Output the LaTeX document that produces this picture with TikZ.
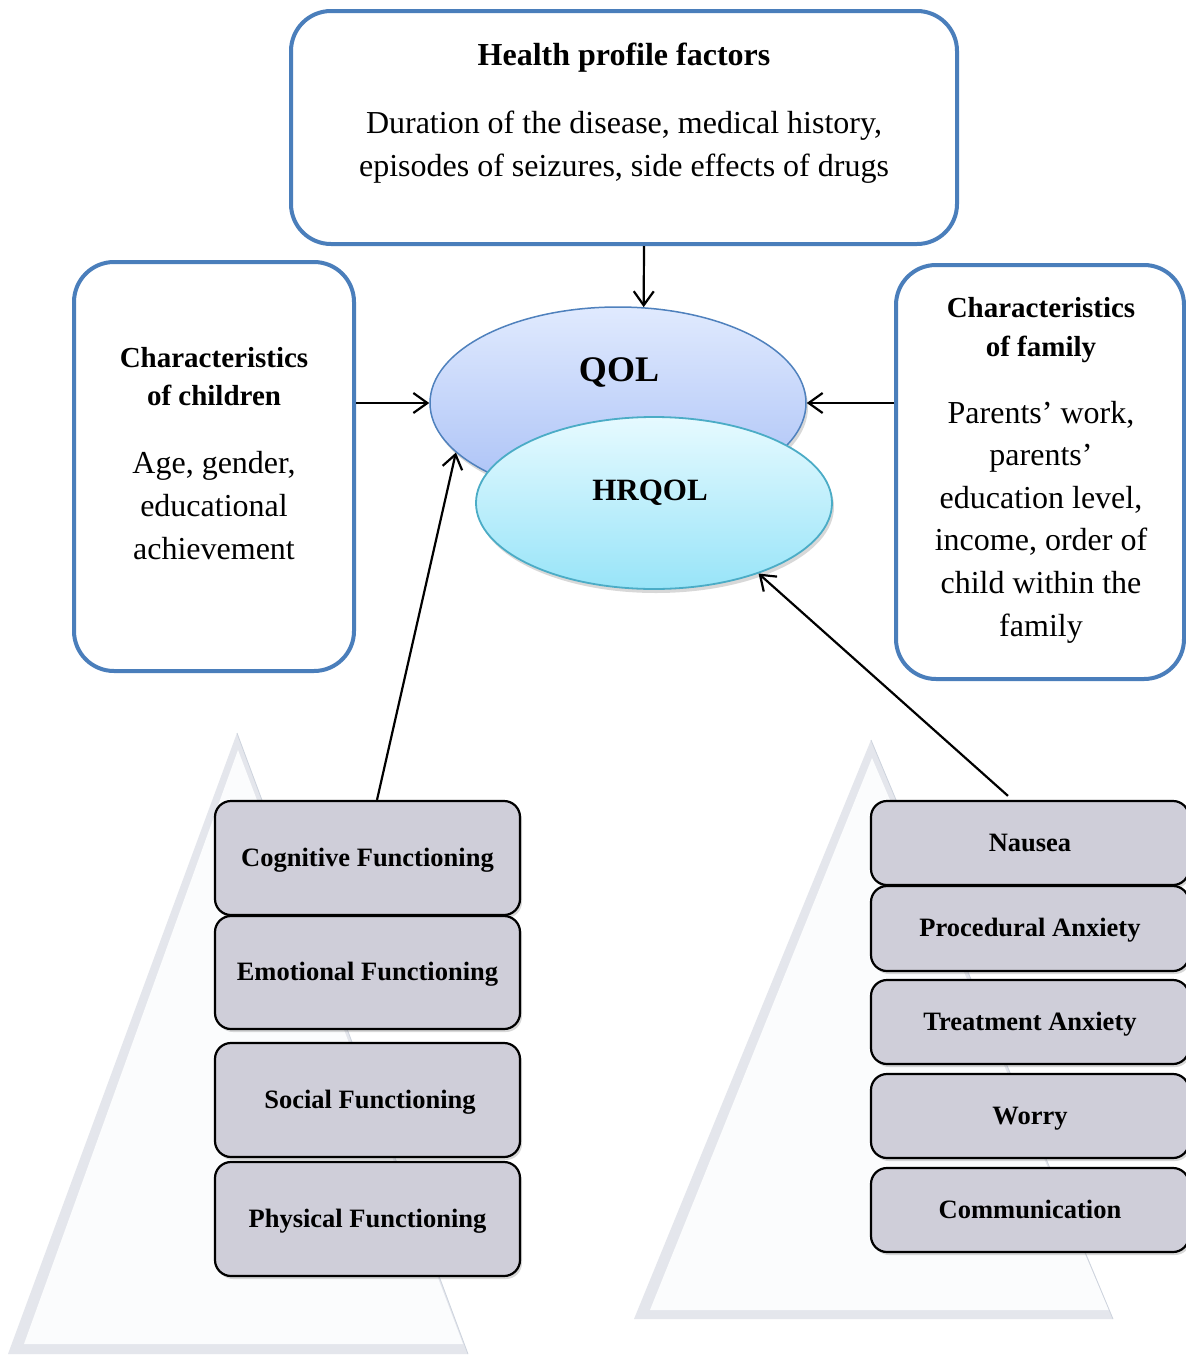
\documentclass[tikz,border=0pt]{standalone}
\usepackage{fontspec}
\setmainfont{Liberation Serif}
\usetikzlibrary{shapes.geometric,arrows.meta,shadows,calc}
\definecolor{bblue}{HTML}{4A7EBB}
\definecolor{boxgray}{HTML}{CFCED9}
\definecolor{triedge}{HTML}{E4E6EC}
\definecolor{triin}{HTML}{FBFCFD}
\definecolor{triline}{HTML}{CDD3DD}
\definecolor{qoltop}{HTML}{E0EAFE}
\definecolor{qolbot}{HTML}{A9C0F6}
\definecolor{qolline}{HTML}{4F81BD}
\definecolor{hrtop}{HTML}{E6FAFF}
\definecolor{hrbot}{HTML}{98E4F8}
\definecolor{hrline}{HTML}{4BACC6}
\begin{document}
\begin{tikzpicture}[x=1pt,y=-1pt,
  bluebox/.style={draw=bblue,line width=4pt,rounded corners=40pt,fill=white,inner sep=0pt},
  graybox/.style={draw=black,line width=2.2pt,fill=boxgray,rounded corners=16pt,inner sep=0pt,
     font=\fontsize{26.5}{30}\selectfont\bfseries,text height=18pt,text depth=2pt,
     drop shadow={shadow xshift=2pt,shadow yshift=-3pt,opacity=0.3}},
  lbox/.style={graybox,minimum width=305pt,minimum height=114pt},
  rbox/.style={graybox,minimum width=318pt,minimum height=84pt},
  arr/.style={-{Straight Barb[length=14pt,width=20pt]},line width=2.2pt},
  bodytxt/.style={align=center,inner sep=0pt},
]
\useasboundingbox (0,0) rectangle (1186,1355);
\fill[white] (0,0) rectangle (1186,1355);

% pyramids
\fill[triedge] (237,733) -- (8,1354) -- (468,1354) -- cycle;
\fill[triin] (238,750) -- (24,1344) -- (463,1344) -- cycle;
\draw[triline,line width=0.8pt] (237,733) -- (468,1354);
\fill[triedge] (871,740) -- (634,1319) -- (1113,1319) -- cycle;
\fill[triin] (872,758) -- (650,1310) -- (1109,1310) -- cycle;
\draw[triline,line width=0.8pt] (871,740) -- (1113,1319);

% blue boxes
\node[bluebox,minimum width=666pt,minimum height=233pt] (hp) at (624,127.5) {};
\node[bluebox,minimum width=280pt,minimum height=409pt] (lc) at (214,466.5) {};
\node[bluebox,minimum width=288pt,minimum height=414pt] (rf) at (1040,472) {};

\node[bodytxt,font=\fontsize{32}{40}\selectfont\bfseries] (hpt) at (624,58) {Health profile factors};
\node[bodytxt,font=\fontsize{32}{43}\selectfont] (hpb) at (624,147) {Duration of the disease, medical history,\\episodes of seizures, side effects of drugs};

\node[bodytxt,font=\fontsize{29}{38}\selectfont\bfseries] (lct) at (214,377) {Characteristics\\of children};
\node[bodytxt,font=\fontsize{32}{43}\selectfont] (lcb) at (214,506) {Age, gender,\\educational\\achievement};

\node[bodytxt,font=\fontsize{29}{39}\selectfont\bfseries] (rft) at (1041,330) {Characteristics\\of family};
\node[bodytxt,font=\fontsize{32}{42.6}\selectfont] (rfb) at (1041,522) {Parents’ work,\\parents’\\education level,\\income, order of\\child within the\\family};

% ellipses
\node[ellipse,draw=qolline,line width=1.5pt,top color=qoltop,bottom color=qolbot,
      minimum width=376pt,minimum height=192pt,inner sep=0pt,
      drop shadow={shadow xshift=2pt,shadow yshift=-4pt,opacity=0.3}] (qol) at (618,403) {};
\node[ellipse,draw=hrline,line width=1.8pt,top color=hrtop,bottom color=hrbot,
      minimum width=356pt,minimum height=172pt,inner sep=0pt,
      drop shadow={shadow xshift=2pt,shadow yshift=-4pt,opacity=0.3}] (hrqol) at (654,503) {};
\node[bodytxt,font=\fontsize{36}{40}\selectfont\bfseries] (qolt) at (619,372) {QOL};
\node[bodytxt,font=\fontsize{31}{36}\selectfont\bfseries] (hrt) at (650,493) {HRQOL};

% gray boxes left
\node[lbox] (cog) at (367.5,858) {Cognitive Functioning};
\node[lbox,minimum height=113pt] (emo) at (367.5,972.5) {Emotional Functioning};
\node[lbox] (soc) at (367.5,1100) {\hspace*{5pt}Social Functioning};
\node[lbox] (phy) at (367.5,1219) {Physical Functioning};

% gray boxes right
\node[rbox] (nau) at (1030,843) {Nausea};
\node[rbox,minimum height=85pt] (pro) at (1030,928.5) {Procedural Anxiety};
\node[rbox] (tre) at (1030,1022) {Treatment Anxiety};
\node[rbox] (wor) at (1030,1116) {Worry};
\node[rbox] (com) at (1030,1210) {Communication};

% arrows
\draw[arr] ($(hp.south)+(20,0)$) -- (qol.75);
\draw[arr] (qol.west -| lc.east) -- (qol.west);
\draw[arr] (qol.east -| rf.west) -- (qol.east);
\draw[arr] ($(cog.north)+(9.5,0)$) -- (qol.197);
\draw[arr] ($(nau.north)+(-22,-4)$) -- (hrqol.-34);
\end{tikzpicture}
\end{document}
